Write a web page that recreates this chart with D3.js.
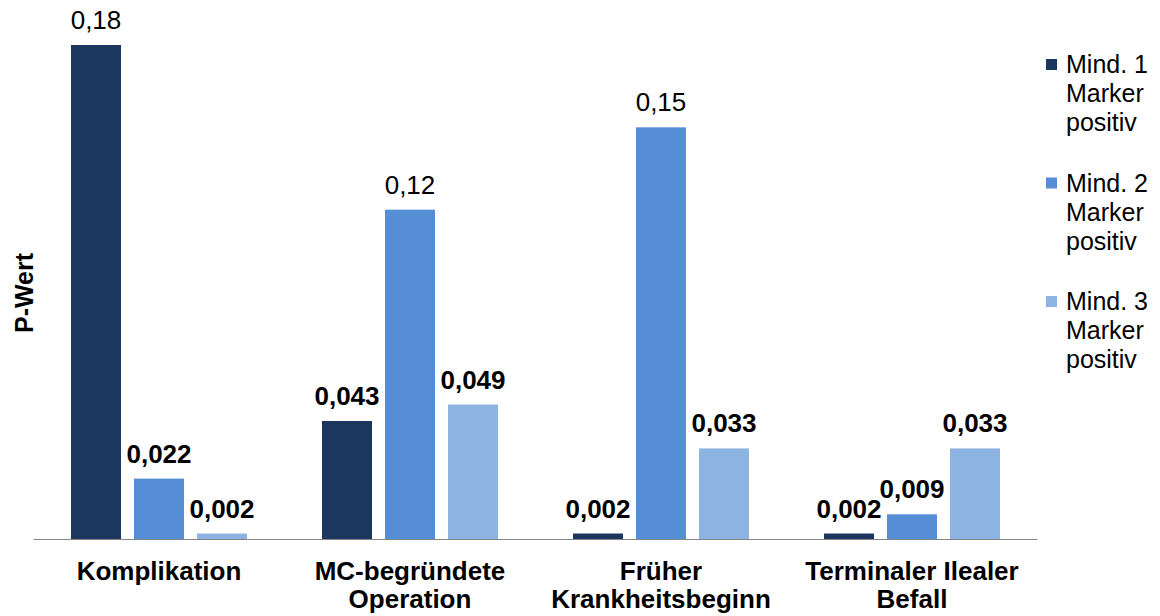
<!DOCTYPE html>
<html>
<head>
<meta charset="utf-8">
<script src="https://cdn.jsdelivr.net/npm/d3@7/dist/d3.min.js"></script>
<style>
  html, body { margin: 0; padding: 0; background: #ffffff; }
  svg { display: block; font-family: Arial, "Liberation Sans", sans-serif; }
</style>
</head>
<body>
<svg id="chart" width="1160" height="616"></svg>
<script>
// Categories (each may wrap onto two lines)
const categories = [
  ["Komplikation"],
  ["MC-begründete", "Operation"],
  ["Früher", "Krankheitsbeginn"],
  ["Terminaler Ilealer", "Befall"]
];
const seriesNames = [
  ["Mind. 1", "Marker", "positiv"],
  ["Mind. 2", "Marker", "positiv"],
  ["Mind. 3", "Marker", "positiv"]
];
const mind1 = [0.18, 0.043, 0.002, 0.002];
const mind2 = [0.022, 0.12, 0.15, 0.009];
const mind3 = [0.002, 0.049, 0.033, 0.033];
// Value labels as printed on the bars
const labels1 = ["0,18", "0,043", "0,002", "0,002"];
const labels2 = ["0,022", "0,12", "0,15", "0,009"];
const labels3 = ["0,002", "0,049", "0,033", "0,033"];

const colors = ["#1b375e", "#558ed5", "#8db3e2"];
const series = [mind1, mind2, mind3];
const seriesLabels = [labels1, labels2, labels3];

const svg = d3.select("#chart");
const plot = { left: 33.5, right: 1037.5, bottom: 539, top: 45 };

const x0 = d3.scaleBand()
  .domain(d3.range(categories.length))
  .range([plot.left, plot.right])
  .paddingInner(0).paddingOuter(0);

const x1 = d3.scaleBand()
  .domain(d3.range(series.length))
  .range([37.5, x0.bandwidth() - 37.5])
  .paddingInner(13 / 63).paddingOuter(0);

const y = d3.scaleLinear().domain([0, 0.18]).range([plot.bottom, plot.top]);

// Bars
const groups = svg.append("g").selectAll("g")
  .data(categories.map((c, i) => i))
  .join("g")
  .attr("transform", i => `translate(${x0(i)},0)`);

const cells = i => series.map((s, k) => ({ k, v: s[i], label: seriesLabels[k][i] }));

groups.selectAll("rect")
  .data(cells)
  .join("rect")
  .attr("x", d => x1(d.k))
  .attr("width", x1.bandwidth())
  .attr("y", d => y(d.v))
  .attr("height", d => y(0) - y(d.v))
  .attr("fill", d => colors[d.k]);

// Value labels: large values in regular weight, small ones in bold
groups.selectAll("text")
  .data(cells)
  .join("text")
  .attr("x", d => x1(d.k) + x1.bandwidth() / 2)
  .attr("y", d => y(d.v) - 16)
  .attr("text-anchor", "middle")
  .attr("font-size", 26)
  .attr("font-weight", d => d.v >= 0.1 ? "normal" : "bold")
  .attr("fill", "#000")
  .text(d => d.label);

// Category axis line
svg.append("line")
  .attr("x1", plot.left).attr("x2", plot.right)
  .attr("y1", plot.bottom + 0.5).attr("y2", plot.bottom + 0.5)
  .attr("stroke", "#868686").attr("stroke-width", 1.2);

// Category labels
const catText = svg.append("g").selectAll("text")
  .data(categories)
  .join("text")
  .attr("x", (d, i) => x0(i) + x0.bandwidth() / 2)
  .attr("y", 580)
  .attr("text-anchor", "middle")
  .attr("font-size", 26)
  .attr("font-weight", "bold");
catText.selectAll("tspan")
  .data(d => d)
  .join("tspan")
  .attr("x", function () { return d3.select(this.parentNode).attr("x"); })
  .attr("dy", (d, j) => j === 0 ? 0 : 28)
  .text(d => d);

// Y-axis title
svg.append("text")
  .attr("transform", "translate(33,293) rotate(-90)")
  .attr("text-anchor", "middle")
  .attr("font-size", 25)
  .attr("font-weight", "bold")
  .text("P-Wert");

// Legend
const legend = svg.append("g").selectAll("g")
  .data(seriesNames)
  .join("g")
  .attr("transform", (d, i) => `translate(1046,${59 + i * 118.5})`);
legend.append("rect")
  .attr("width", 11).attr("height", 11)
  .attr("fill", (d, i) => colors[i]);
legend.append("text")
  .attr("font-size", 25)
  .attr("fill", "#000")
  .selectAll("tspan")
  .data(d => d)
  .join("tspan")
  .attr("x", 20)
  .attr("y", (d, j) => 14 + j * 29)
  .text(d => d);
</script>
</body>
</html>
